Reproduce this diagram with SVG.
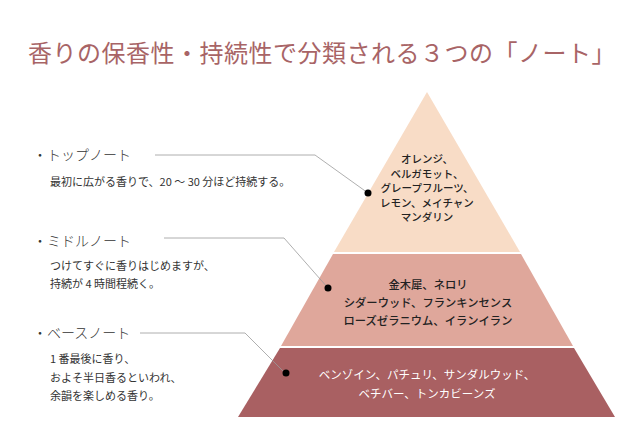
<svg xmlns="http://www.w3.org/2000/svg" width="640" height="438" viewBox="0 0 640 438">
<style>
.title{font-family:"Liberation Serif","Noto Sans CJK JP",serif;font-size:24px;letter-spacing:0.5px;fill:#a86466;text-anchor:middle}
.label{font-family:"Noto Sans CJK JP",sans-serif;font-size:14px;fill:#333333;font-weight:300}
.desc{font-family:"Noto Sans CJK JP",sans-serif;font-size:11px;fill:#333333;font-weight:400}
.innert{font-family:"Noto Sans CJK JP",sans-serif;font-size:10.5px;fill:#222222;text-anchor:middle;font-weight:500}
.inner{font-family:"Noto Sans CJK JP",sans-serif;font-size:11.3px;fill:#222222;text-anchor:middle;font-weight:500}
.innerw{font-family:"Noto Sans CJK JP",sans-serif;font-size:11.5px;fill:#ffffff;text-anchor:middle;font-weight:400}
.conn{fill:none;stroke:#9a9a9a;stroke-width:0.8}
.dot{fill:#000000}
</style>
<rect width="640" height="438" fill="#ffffff"/>
<text class="title" x="322" y="62">香りの保香性・持続性で分類される３つの「ノート」</text>

<g id="tier-top">
<polygon points="427,92 520,252 334,252" fill="#f8dcc6"/>
<text class="innert" x="427" y="163">オレンジ、</text>
<text class="innert" x="427" y="177.5">ベルガモット、</text>
<text class="innert" x="427" y="192">グレープフルーツ、</text>
<text class="innert" x="427" y="206.5">レモン、メイチャン</text>
<text class="innert" x="427" y="221">マンダリン</text>
</g>
<g id="tier-middle">
<polygon points="333,254 521,254 573,346 281,346" fill="#dfa79b"/>
<text class="inner" x="428" y="289">金木犀、ネロリ</text>
<text class="inner" x="428" y="307">シダーウッド、フランキンセンス</text>
<text class="inner" x="428" y="325">ローズゼラニウム、イランイラン</text>
</g>
<g id="tier-bottom">
<polygon points="280,348 574,348 615,417 238,417" fill="#a96062"/>
<text class="innerw" x="427" y="379">ベンゾイン、パチュリ、サンダルウッド、</text>
<text class="innerw" x="427" y="398">ベチバー、トンカビーンズ</text>
</g>

<g id="label-top">
<text class="label" x="33" y="160">・トップノート</text>
<text class="desc" x="50" y="186">最初に広がる香りで、20 〜 30 分ほど持続する。</text>
</g>
<g id="label-middle">
<text class="label" x="33" y="246">・ミドルノート</text>
<text class="desc" x="50" y="270">つけてすぐに香りはじめますが、</text>
<text class="desc" x="50" y="288">持続が 4 時間程続く。</text>
</g>
<g id="label-base">
<text class="label" x="33" y="338">・ベースノート</text>
<text class="desc" x="50" y="363">1 番最後に香り、</text>
<text class="desc" x="50" y="382">およそ半日香るといわれ、</text>
<text class="desc" x="50" y="400">余韻を楽しめる香り。</text>
</g>

<g id="connectors">
<polyline class="conn" points="155,155 315,155 368,193"/>
<polyline class="conn" points="164,238 284,238 328,288"/>
<polyline class="conn" points="140,333 245,333 285,373"/>
<circle class="dot" cx="368" cy="193" r="3.5"/>
<circle class="dot" cx="328" cy="288" r="3.5"/>
<circle class="dot" cx="286" cy="373" r="3.5"/>
</g>
</svg>
